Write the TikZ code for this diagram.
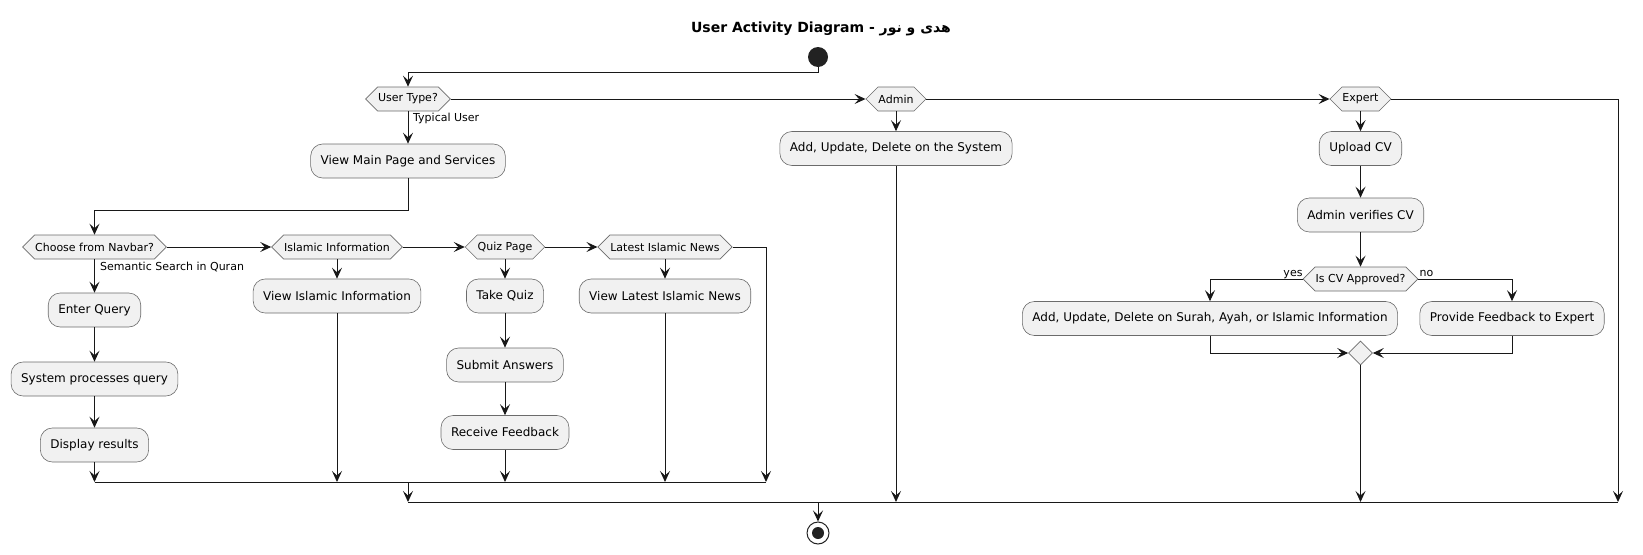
\documentclass[tikz,border=0pt]{standalone}
\usepackage{fontspec}
\setmainfont{DejaVu Sans}
\newfontfamily\arabicfont[Script=Arabic]{DejaVu Sans}
\TeXXeTstate=1
\usetikzlibrary{shapes.symbols,shapes.geometric,arrows.meta}
\definecolor{lc}{HTML}{181818}
\definecolor{bd}{HTML}{6B6B6B}
\definecolor{bf}{HTML}{F1F1F1}
\definecolor{sc}{HTML}{222222}
\tikzset{
  act/.style={draw=bd, line width=0.6pt, fill=bf, rounded corners=12pt, minimum height=34pt,
    inner xsep=10pt, inner ysep=0pt, font=\fontsize{12}{14}\selectfont},
  dec/.style={draw=bd, line width=0.6pt, fill=bf, signal, signal to=east and west,
    signal pointer angle=90, minimum height=24pt, inner xsep=0.5pt, inner ysep=0pt,
    font=\fontsize{11}{13}\selectfont},
  lbl/.style={font=\fontsize{11}{13}\selectfont, inner sep=0pt},
  flow/.style={draw=lc, line width=1pt, -{Stealth[length=11pt,width=10pt,inset=4.5pt]}},
  wire/.style={draw=lc, line width=1pt},
}
\begin{document}
\begin{tikzpicture}[x=1pt,y=-1pt]
\useasboundingbox (0,0) rectangle (1643,554);
% title
\node[font=\fontsize{14}{17}\selectfont\bfseries, inner sep=0pt] (title) at (821,29)
  {User Activity Diagram - {\arabicfont\bfseries\beginR هدى و نور\endR}};
% start
\node[circle, fill=sc, minimum size=20pt, inner sep=0pt] (start) at (818,57) {};
% top decisions
\node[dec] (ut) at (408,99) {User Type?};
\node[dec] (admin) at (896,99) {Admin};
\node[dec] (expert) at (1360.5,99) {Expert};
\coordinate (expr) at (1618,99);
% typical user branch
\node[act] (vm) at (408,161) {View Main Page and Services};
\node[dec] (nav) at (94.5,247) {Choose from Navbar?};
\node[dec] (ii) at (337,247) {Islamic Information};
\node[dec] (qp) at (505,247) {Quiz Page};
\node[dec] (lin) at (665,247) {Latest Islamic News};
\coordinate (linr) at (766,247);
\node[act] (eq) at (94.5,310) {Enter Query};
\node[act] (sp) at (94.5,379) {System processes query};
\node[act] (dr) at (94.5,445) {Display results};
\node[act] (vii) at (337,296) {View Islamic Information};
\node[act] (tq) at (505,296) {Take Quiz};
\node[act] (sa) at (505,365) {Submit Answers};
\node[act] (rf) at (505,432.5) {Receive Feedback};
\node[act] (vlin) at (665,296) {View Latest Islamic News};
% admin branch
\node[act] (adm) at (896,148.5) {Add, Update, Delete on the System};
% expert branch
\node[act] (up) at (1360.5,148.5) {Upload CV};
\node[act] (avc) at (1360.5,215) {Admin verifies CV};
\node[dec] (cva) at (1360.5,279) {Is CV Approved?};
\node[act] (sur) at (1210,318.5) {Add, Update, Delete on Surah, Ayah, or Islamic Information};
\node[act] (fb) at (1512,318.5) {Provide Feedback to Expert};
\node[diamond, draw=bd, line width=0.6pt, fill=bf, minimum width=24pt, minimum height=24pt,
  inner sep=0pt] (dm) at (1360.5,353) {};
% joins
\coordinate (j1) at (0,482);
\coordinate (j2) at (0,502);
\coordinate (j1m) at (408,482);
\coordinate (ej) at (818,502);
% end
\node[circle, draw=sc, line width=1pt, fill=white, minimum size=22pt, inner sep=0pt] (endc) at (818,533) {};
\node[circle, fill=sc, minimum size=12pt, inner sep=0pt] (endin) at (endc) {};
% labels
\node[lbl, anchor=west] (tu) at (413,118) {Typical User};
\node[lbl, anchor=west] (ssq) at (100,267) {Semantic Search in Quran};
\node[lbl, anchor=base east] (yes) at ([yshift=3pt]cva.west) {yes};
\node[lbl, anchor=base west] (no) at ([yshift=3pt,xshift=1pt]cva.east) {no};
% connectors
\draw[flow] (start.south) -- ++(0,5) -| (ut.north);
\draw[flow] (ut.east) -- (admin.west);
\draw[flow] (admin.east) -- (expert.west);
\draw[wire] (expert.east) -- (expr);
\draw[flow] (expr) -- (expr |- j2);
\draw[flow] (ut.south) -- (vm.north);
\draw[flow] (vm.south) -- ++(0,32) -| (nav.north);
\draw[flow] (nav.east) -- (ii.west);
\draw[flow] (ii.east) -- (qp.west);
\draw[flow] (qp.east) -- (lin.west);
\draw[wire] (lin.east) -- (linr);
\draw[flow] (linr) -- (linr |- j1);
\draw[flow] (nav.south) -- (eq.north);
\draw[flow] (eq.south) -- (sp.north);
\draw[flow] (sp.south) -- (dr.north);
\draw[flow] (dr.south) -- (dr.south |- j1);
\draw[flow] (ii.south) -- (vii.north);
\draw[flow] (vii.south) -- (vii.south |- j1);
\draw[flow] (qp.south) -- (tq.north);
\draw[flow] (tq.south) -- (sa.north);
\draw[flow] (sa.south) -- (rf.north);
\draw[flow] (rf.south) -- (rf.south |- j1);
\draw[flow] (lin.south) -- (vlin.north);
\draw[flow] (vlin.south) -- (vlin.south |- j1);
\draw[wire] (dr.south |- j1) -- (linr |- j1);
\draw[flow] (j1m) -- (j1m |- j2);
\draw[wire] (j1m |- j2) -- (expr |- j2);
\draw[flow] (admin.south) -- (adm.north);
\draw[flow] (adm.south) -- (adm.south |- j2);
\draw[flow] (expert.south) -- (up.north);
\draw[flow] (up.south) -- (avc.north);
\draw[flow] (avc.south) -- (cva.north);
\draw[flow] (cva.west) -| (sur.north);
\draw[flow] (cva.east) -| (fb.north);
\draw[flow] (sur.south) |- (dm.west);
\draw[flow] (fb.south) |- (dm.east);
\draw[flow] (dm.south) -- (dm.south |- j2);
\draw[flow] (ej) -- (endc.north);
\end{tikzpicture}
\end{document}
